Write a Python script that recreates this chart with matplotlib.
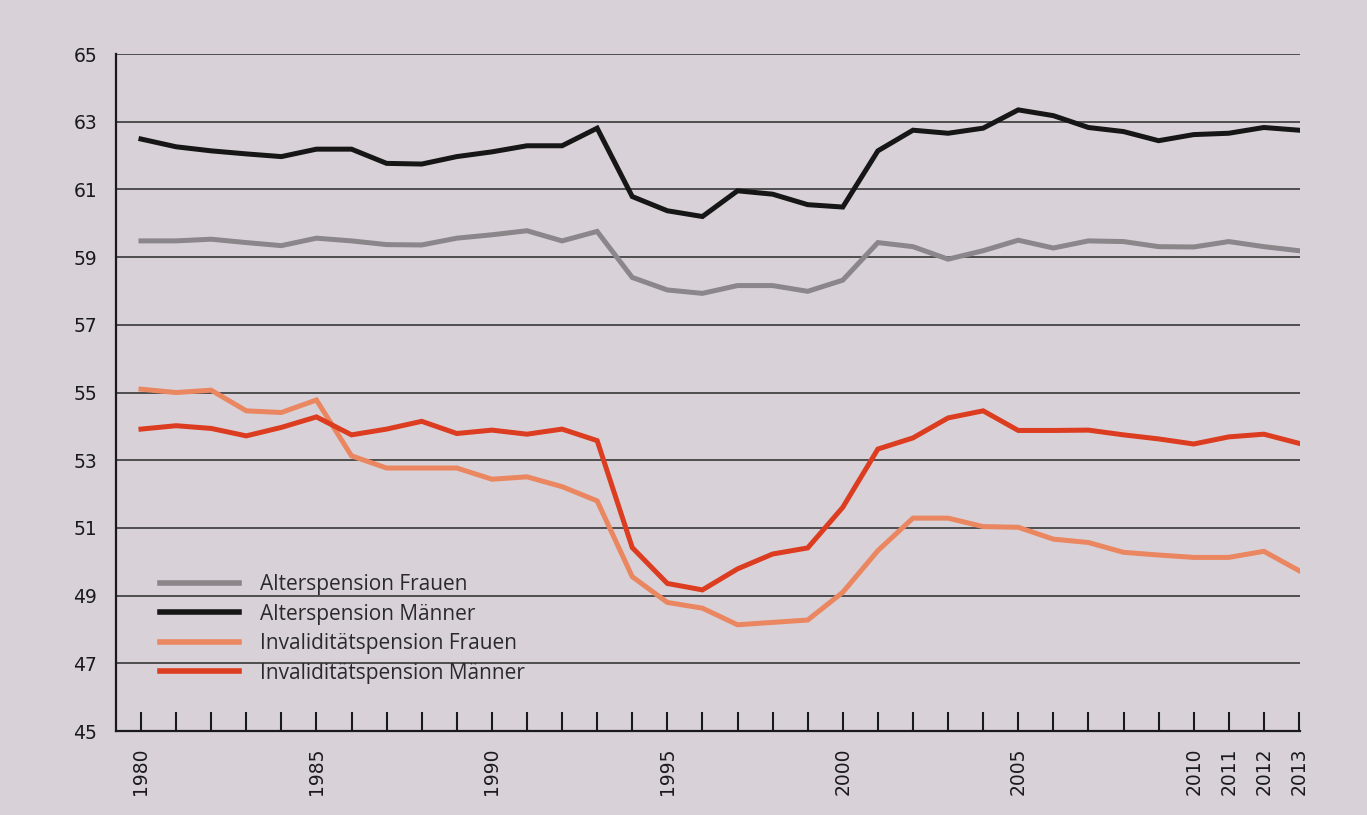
import matplotlib
matplotlib.use("Agg")
import matplotlib.pyplot as plt
import numpy as np

# Durchschnittliches Pensionsantrittsalter 1980-2013
years = list(range(1980, 2014))

alter_frauen = [59.48, 59.48, 59.53, 59.43, 59.34, 59.56, 59.48, 59.37, 59.36, 59.56,
                59.66, 59.78, 59.48, 59.76, 58.40, 58.03, 57.93, 58.16, 58.16, 57.99,
                58.32, 59.43, 59.31, 58.94, 59.19, 59.50, 59.27, 59.48, 59.46, 59.31,
                59.30, 59.46, 59.31, 59.19]
alter_maenner = [62.49, 62.26, 62.14, 62.05, 61.97, 62.19, 62.19, 61.77, 61.75, 61.97,
                 62.11, 62.29, 62.29, 62.81, 60.79, 60.37, 60.20, 60.96, 60.86, 60.55,
                 60.48, 62.14, 62.75, 62.66, 62.81, 63.35, 63.18, 62.83, 62.71, 62.44,
                 62.62, 62.66, 62.83, 62.75]
inval_frauen = [55.10, 55.00, 55.07, 54.46, 54.41, 54.78, 53.13, 52.77, 52.77, 52.77,
                52.44, 52.51, 52.22, 51.80, 49.56, 48.80, 48.63, 48.14, 48.21, 48.28,
                49.10, 50.33, 51.29, 51.29, 51.04, 51.02, 50.67, 50.57, 50.28, 50.20,
                50.13, 50.13, 50.31, 49.74]
inval_maenner = [53.92, 54.02, 53.94, 53.72, 53.97, 54.28, 53.75, 53.92, 54.15, 53.79,
                 53.89, 53.77, 53.92, 53.58, 50.42, 49.36, 49.17, 49.79, 50.23, 50.41,
                 51.61, 53.33, 53.66, 54.25, 54.46, 53.88, 53.88, 53.89, 53.75, 53.63,
                 53.48, 53.69, 53.77, 53.50]

labels = ["Alterspension Frauen", "Alterspension Männer",
          "Invaliditätspension Frauen", "Invaliditätspension Männer"]
colors = ["#8b868a", "#161616", "#ea8660", "#dc3c20"]
labelled_years = [1980, 1985, 1990, 1995, 2000, 2005, 2010, 2011, 2012, 2013]
y_ticks = list(range(45, 66, 2))

plt.rcParams["font.family"] = ["Open Sans", "DejaVu Sans"]
bg = "#d8d2d8"

fig = plt.figure(figsize=(13.67, 8.15), dpi=100, facecolor=bg)
ax = fig.add_axes([0.0849, 0.103, 0.8661, 0.8307], facecolor=bg)

for vals, lab, col in zip([alter_frauen, alter_maenner, inval_frauen, inval_maenner],
                          labels, colors):
    ax.plot(years, vals, color=col, lw=3.6, label=lab, solid_joinstyle="miter",
            zorder=3)

ax.set_ylim(45, 65)
ax.set_xlim(1979.29, 2013.03)
ax.set_yticks(y_ticks)
ax.set_yticklabels([str(v) for v in y_ticks], fontsize=13.5, family="DejaVu Sans")
ax.set_xticks(years)
ax.set_xticklabels([str(y) if y in labelled_years else "" for y in years],
                   rotation=90, fontsize=13.5, family="DejaVu Sans")
ax.tick_params(axis="y", length=0, pad=13.5, colors="#1a1a1a")
ax.tick_params(axis="x", direction="in", length=14, width=1.5, pad=11.5,
               colors="#1a1a1a")

ax.grid(axis="y", color="#2a2a2a", lw=1.1, zorder=1)
for s in ["top", "right"]:
    ax.spines[s].set_visible(False)
for s in ["left", "bottom"]:
    ax.spines[s].set_color("#1a1a1a")
    ax.spines[s].set_linewidth(1.6)

leg = ax.legend(loc="upper left", bbox_to_anchor=(0.037, 0.232), frameon=False,
                fontsize=15, handlelength=3.8, handletextpad=1.0, labelspacing=0.41,
                borderpad=0, borderaxespad=0)
for line in leg.get_lines():
    line.set_linewidth(4)
for t in leg.get_texts():
    t.set_color("#2a2a2a")

fig.savefig("out.png", dpi=100, facecolor=bg)
